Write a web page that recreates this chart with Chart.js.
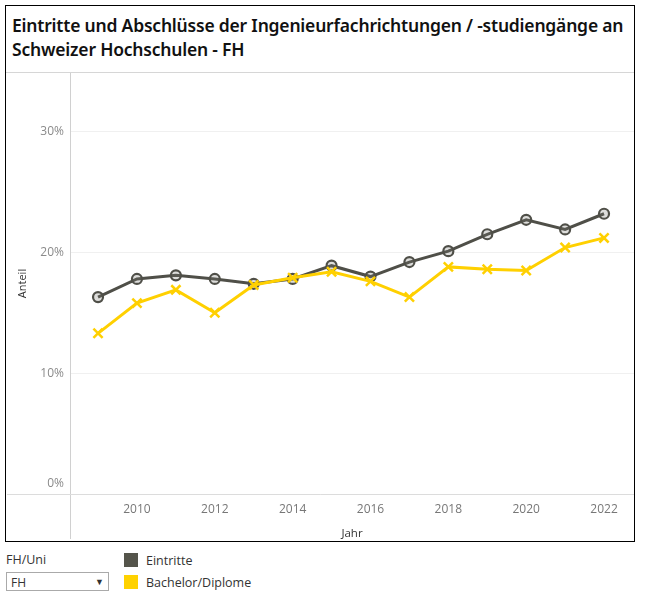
<!DOCTYPE html>
<html><head><meta charset="utf-8">
<script src="https://cdn.jsdelivr.net/npm/chart.js@4.4.1/dist/chart.umd.min.js"></script>
<style>
html,body{margin:0;padding:0;background:#fff;}
body{width:645px;height:600px;position:relative;overflow:hidden;font-family:"Open Sans",sans-serif;}
#frame{position:absolute;left:5px;top:5px;width:628px;height:535px;border:1px solid #000;box-sizing:content-box;}
#title{position:absolute;left:6px;top:7px;width:620px;font-family:"Noto Sans",sans-serif;font-weight:600;font-size:17.5px;line-height:24px;color:#111;letter-spacing:-0.2px;}
#sep{position:absolute;left:0;top:66px;width:628px;height:1px;background:#d6d6d6;}
#wrap{position:absolute;left:1px;top:67px;width:627px;height:468px;}
.lbl{position:absolute;font-size:12.5px;color:#333;}
.sw{position:absolute;width:14px;height:14px;}
#dd{position:absolute;left:6px;top:572px;width:103px;height:19px;border:1px solid #aaa;font-size:12px;color:#333;box-sizing:border-box;}
</style></head>
<body>
<div id="frame">
  <div id="title">Eintritte und Abschlüsse der Ingenieurfachrichtungen / -studiengänge an Schweizer Hochschulen - FH</div>
  <div id="sep"></div>
  <div id="wrap"><canvas id="c" width="627" height="468"></canvas></div>
</div>
<div class="lbl" style="left:6px;top:551px;font-size:12.5px;">FH/Uni</div>
<div id="dd"><span style="position:absolute;left:4px;top:1px;">FH</span><span style="position:absolute;left:88px;top:2px;font-size:9px;">&#9660;</span></div>
<div class="sw" style="left:124px;top:553px;background:#55554b;"></div>
<div class="lbl" style="left:146px;top:552px;">Eintritte</div>
<div class="sw" style="left:124px;top:575px;background:#FFD200;"></div>
<div class="lbl" style="left:146px;top:574px;">Bachelor/Diplome</div>
<script>
const years = [2009,2010,2011,2012,2013,2014,2015,2016,2017,2018,2019,2020,2021,2022];
const eintritte = [16.3,17.8,18.1,17.8,17.4,17.8,18.9,18.0,19.2,20.1,21.5,22.7,21.9,23.2];
const bachelor = [13.3,15.8,16.9,15.0,17.3,17.9,18.4,17.6,16.3,18.8,18.6,18.5,20.4,21.2];
const xTicks = [2010,2012,2014,2016,2018,2020,2022];
const yTicks = [0,10,20,30];
const seriesNames = ['Eintritte','Bachelor/Diplome'];

const axisPlugin = {
  id:'axisLines',
  afterDraw(chart){
    const {ctx, chartArea:a, scales} = chart;
    const ys = scales.y;
    ctx.save();
    ctx.strokeStyle='#d0d0d0'; ctx.lineWidth=1;
    ctx.beginPath(); ctx.moveTo(a.left+0.5,0); ctx.lineTo(a.left+0.5,chart.height-2); ctx.stroke();
    const y0 = Math.round(ys.getPixelForValue(0))+0.5;
    ctx.strokeStyle='#dcdcdc';
    ctx.beginPath(); ctx.moveTo(0,y0); ctx.lineTo(chart.width,y0); ctx.stroke();
    ctx.fillStyle='#8a8a8a'; ctx.font='12px "Open Sans"'; ctx.textAlign='right'; ctx.textBaseline='middle';
    yTicks.forEach(v=>{
      let py = ys.getPixelForValue(v);
      if (py > a.bottom-8) py = a.bottom-10;
      ctx.fillText(v+'%', a.left-6, py);
    });
    ctx.restore();
  }
};

new Chart(document.getElementById('c'),{
  type:'line',
  data:{datasets:[
    {label:seriesNames[1],data:years.map((x,i)=>({x,y:bachelor[i]})),borderColor:'#FFD000',backgroundColor:'#FFD000',borderWidth:3,pointStyle:'crossRot',pointRadius:6.5,pointBorderWidth:2.5,pointHoverRadius:6.5,order:1},
    {label:seriesNames[0],data:years.map((x,i)=>({x,y:eintritte[i]})),borderColor:'#4f4f48',backgroundColor:'rgba(120,120,110,0.25)',borderWidth:3,pointStyle:'circle',pointRadius:5,pointBorderWidth:2.2,pointBorderColor:'#4f4f48',pointHoverRadius:5,order:2}
  ]},
  options:{
    responsive:false,animation:false,
    layout:{padding:0,autoPadding:false},
    plugins:{legend:{display:false},tooltip:{enabled:false}},
    scales:{
      x:{type:'linear',min:2008.28,max:2022.77,
        afterBuildTicks(s){s.ticks=xTicks.map(v=>({value:v}));},
        afterFit(s){s.height=47;},
        grid:{display:false,drawTicks:false},border:{display:false},
        ticks:{color:'#777',font:{family:'Open Sans',size:12},padding:8,callback:v=>String(v),maxRotation:0},
        title:{display:true,text:'Jahr',color:'#333',font:{family:'Open Sans',size:11.5},padding:{top:2,bottom:0}}
      },
      y:{min:0,max:34.85,
        afterBuildTicks(s){s.ticks=yTicks.map(v=>({value:v}));},
        afterFit(s){s.width=63;},
        grid:{color:'#f0f0f0',drawTicks:false},border:{display:false},
        ticks:{display:false},
        title:{display:true,text:'Anteil',color:'#333',font:{family:'Open Sans',size:11},padding:{top:9,bottom:0}}
      }
    }
  },
  plugins:[axisPlugin]
});
</script>
</body></html>
